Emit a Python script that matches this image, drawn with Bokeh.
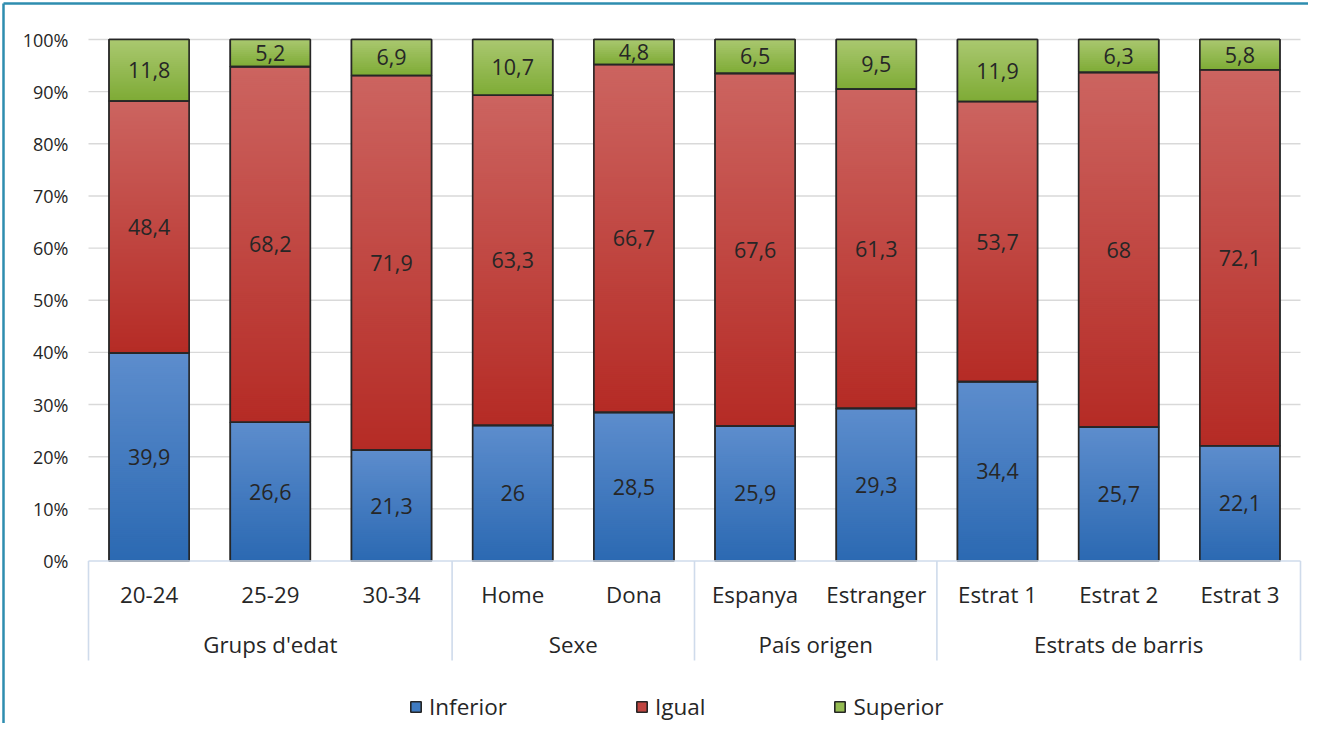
import numpy as np
from bokeh.plotting import figure
from bokeh.models import Range1d, Legend, LegendItem
from bokeh.core.properties import value
from bokeh.embed import file_html
from bokeh.resources import INLINE

# ---------------- data ----------------
categories = ["20-24", "25-29", "30-34", "Home", "Dona", "Espanya", "Estranger",
              "Estrat 1", "Estrat 2", "Estrat 3"]
groups = ["Grups d'edat", "Sexe", "País origen", "Estrats de barris"]
group_sizes = [3, 2, 2, 3]
inferior = [39.9, 26.6, 21.3, 26.0, 28.5, 25.9, 29.3, 34.4, 25.7, 22.1]
igual = [48.4, 68.2, 71.9, 63.3, 66.7, 67.6, 61.3, 53.7, 68.0, 72.1]
superior = [11.8, 5.2, 6.9, 10.7, 4.8, 6.5, 9.5, 11.9, 6.3, 5.8]
series_names = ["Inferior", "Igual", "Superior"]
y_ticks = [0, 10, 20, 30, 40, 50, 60, 70, 80, 90, 100]
y_tick_labels = [f"{t}%" for t in y_ticks]

# ---------------- styling ----------------
FONT = value("Open Sans")
TXT = "#262626"
colors_top = ["#5d8dcd", "#cc6460", "#aac870"]
colors_bot = ["#2b69b2", "#b52b25", "#7eab35"]
colors_mid = ["#3f7bc1", "#c04541", "#94bb52"]

W, H = 1308, 723
PX_X = 121.2        # pixels per category
X0_PX = 88.0        # canvas x of category axis start
PX_Y = 5.215        # pixels per percent
Y0_PX = 560.5       # canvas y (from top) of 0%
BAR_W = 0.66

x_range = Range1d(-X0_PX / PX_X, (W - X0_PX) / PX_X)
y_range = Range1d(-(H - Y0_PX) / PX_Y, Y0_PX / PX_Y)

p = figure(width=W, height=H, x_range=x_range, y_range=y_range,
           output_backend="svg", toolbar_location=None,
           x_axis_location=None, y_axis_location=None, min_border=0)
p.grid.visible = False
p.outline_line_color = None
p.background_fill_color = "white"
p.border_fill_color = "white"

n = len(categories)
xs = np.arange(n) + 0.5

# gridlines
grid_y = [t for t in y_ticks if t > 0]
p.segment(x0=[0] * len(grid_y), x1=[n] * len(grid_y), y0=grid_y, y1=grid_y,
          line_color="#d9d9d9", line_width=1.4)

# normalised stacking (100% stacked)
vals = np.array([inferior, igual, superior], dtype=float)
tot = vals.sum(axis=0)
pct = vals / tot * 100.0
bottoms = np.vstack([np.zeros(n), np.cumsum(pct, axis=0)[:-1]])
tops = bottoms + pct


def hex2rgb(h):
    h = h.lstrip("#")
    return np.array([int(h[i:i + 2], 16) for i in (0, 2, 4)], dtype=float)


def rgb2hex(c):
    return "#%02x%02x%02x" % tuple(int(round(v)) for v in c)


legend_items = []
for s in range(3):
    # solid base (also used as legend glyph)
    r = p.vbar(x=xs, width=BAR_W, bottom=bottoms[s], top=tops[s],
               fill_color=colors_mid[s], line_color=TXT, line_width=1.6)
    legend_items.append(LegendItem(label=series_names[s], renderers=[r]))

    # vertical gradient inside each segment
    L, R, B, T, C = [], [], [], [], []
    cb, ct = hex2rgb(colors_bot[s]), hex2rgb(colors_top[s])
    for i in range(n):
        b, t = bottoms[s][i], tops[s][i]
        hpx = (t - b) * PX_Y
        k_n = max(6, int(hpx / 2))
        for k in range(k_n):
            f = (k + 0.5) / k_n
            L.append(xs[i] - BAR_W / 2)
            R.append(xs[i] + BAR_W / 2)
            B.append(b + (t - b) * k / k_n)
            T.append(t)
            C.append(rgb2hex(cb + (ct - cb) * f))
    p.quad(left=L, right=R, bottom=B, top=T, fill_color=C, line_color=None)

# outlines on top
for s in range(3):
    p.vbar(x=xs, width=BAR_W, bottom=bottoms[s], top=tops[s],
           fill_color=None, line_color=TXT, line_width=1.6)

# data labels
lab_x, lab_y, lab_t = [], [], []
for s, raw in enumerate([inferior, igual, superior]):
    for i in range(n):
        lab_x.append(xs[i])
        lab_y.append((bottoms[s][i] + tops[s][i]) / 2)
        lab_t.append(f"{raw[i]:g}".replace(".", ","))
p.text(x=lab_x, y=lab_y, text=lab_t, text_align="center", text_baseline="middle",
       text_font=FONT, text_font_size=value("21.5px"), text_color=TXT)

# y tick labels
p.text(x=[-20 / PX_X] * len(y_ticks), y=y_ticks, text=y_tick_labels,
       text_align="right", text_baseline="middle",
       text_font=FONT, text_font_size=value("18px"), text_color=TXT)

# category axis line & group separators
CAT_Y = -33.5 / PX_Y
GRP_Y = -83.5 / PX_Y
SEP_Y = -99.5 / PX_Y
p.segment(x0=[0], y0=[0], x1=[n], y1=[0], line_color="#cfdbeb", line_width=1.6)
bounds = np.concatenate([[0], np.cumsum(group_sizes)])
p.segment(x0=bounds, x1=bounds, y0=[0] * len(bounds), y1=[SEP_Y] * len(bounds),
          line_color="#cfdbeb", line_width=1.6)

p.text(x=xs, y=[CAT_Y] * n, text=categories, text_align="center",
       text_baseline="middle", text_font=FONT, text_font_size=value("22.3px"),
       text_color=TXT)
gx = (bounds[:-1] + bounds[1:]) / 2
p.text(x=gx, y=[GRP_Y] * len(groups), text=groups, text_align="center",
       text_baseline="middle", text_font=FONT, text_font_size=value("22.3px"),
       text_color=TXT)

# outer border (left & top visible in reference)
bx = x_range.start + 3 / PX_X
by = y_range.end - 3 / PX_Y
p.segment(x0=[bx, bx], y0=[y_range.start, by],
          x1=[bx, x_range.end], y1=[by, by], line_color="#2e8daf", line_width=2.5)

legend = Legend(items=legend_items, orientation="horizontal", location=(409, 1),
                spacing=128, padding=0, margin=0, glyph_width=13, glyph_height=13,
                label_standoff=7, label_text_font="Open Sans",
                label_text_font_size="22.5px", label_text_color=TXT,
                border_line_color=None, background_fill_alpha=0)
p.add_layout(legend, "center")

open("out.html", "w").write(file_html(p, INLINE))
